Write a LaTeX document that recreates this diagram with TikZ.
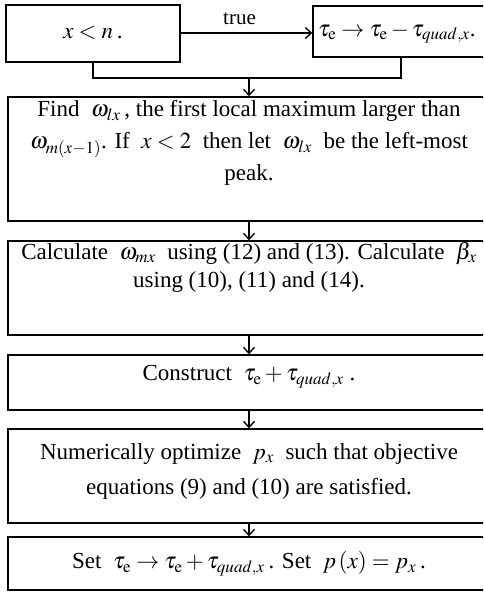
\documentclass[tikz,border=0pt]{standalone}
\usepackage{mathptmx}
\usepackage[no-math]{fontspec}
\setmainfont{Liberation Serif}
\usetikzlibrary{arrows.meta}
\begin{document}
\begin{tikzpicture}[x=1pt,y=-1pt,
  box/.style={draw, line width=1.4pt, inner sep=0pt},
  txt/.style={inner sep=0pt, align=center, font=\fontsize{23}{32}\selectfont},
  conn/.style={line width=1.4pt},
  arr/.style={line width=1.4pt, -{Straight Barb[length=6pt,width=11pt,line width=1.4pt]}}]
\useasboundingbox (0,0) rectangle (483,599);
\clip (0,0) rectangle (483,599);
% boxes
\node[box, minimum width=174pt, minimum height=57pt] (b1) at (93,33.5) {};
\node[box, minimum width=200pt, minimum height=51pt] (b2) at (413,31.5) {};
\node[box, minimum width=510pt, minimum height=124pt] (b3) at (263,159) {};
\node[box, minimum width=510pt, minimum height=94pt] (b4) at (263,288) {};
\node[box, minimum width=510pt, minimum height=55pt] (b5) at (263,382.5) {};
\node[box, minimum width=510pt, minimum height=94pt] (b6) at (263,476) {};
\node[box, minimum width=510pt, minimum height=53pt] (b7) at (263,563.5) {};
% texts
\node[txt] (t1) at (93,33) {$x<n$\,.};
\node[txt, anchor=west] (t2) at (318,33) {$\tau_{\mathrm{e}}\rightarrow\tau_{\mathrm{e}}-\tau_{quad,x}$.};
\node[txt] (t3) at (249,143) {Find~ $\omega_{lx}$\,, the first local maximum larger than\\
$\omega_{m(x-1)}$. If~ $x<2$~ then let~ $\omega_{lx}$~ be the left-most\\ peak.};
\node[txt, font=\fontsize{23}{28}\selectfont] (t4) at (249,267) {Calculate~ $\omega_{mx}$~ using (12) and (13). Calculate~ $\beta_{x}$\\ using (10), (11) and (14).};
\node[txt] (t5) at (249,377) {Construct~ $\tau_{\mathrm{e}}+\tau_{quad,x}$~.};
\node[txt, font=\fontsize{23}{35}\selectfont] (t6) at (249,471) {Numerically optimize~ $p_{x}$~ such that objective\\ equations (9) and (10) are satisfied.};
\node[txt] (t7) at (249,564) {Set~ $\tau_{\mathrm{e}}\rightarrow\tau_{\mathrm{e}}+\tau_{quad,x}$\,. Set~ $p\left(x\right)=p_{x}$\,.};
% connectors
\coordinate (m1) at (93,78);
\coordinate (m2) at (401,78);
\coordinate (mc) at (249,78);
\draw[arr] (b1.east |- 0,33) -- node[above=8pt, xshift=-7pt, font=\fontsize{21}{22}\selectfont, inner sep=0pt] (lt) {true} (b2.west |- 0,33);
\draw[conn] (b1.south) -- (m1) -- (m2) -- (b2.south -| m2);
\draw[arr] (mc) -- (b3.north -| mc);
\draw[arr] (b3.south -| mc) -- (b4.north -| mc);
\draw[arr] (b4.south -| mc) -- (b5.north -| mc);
\draw[arr] (b5.south -| mc) -- (b6.north -| mc);
\draw[arr] (b6.south -| mc) -- (b7.north -| mc);
\end{tikzpicture}
\end{document}
